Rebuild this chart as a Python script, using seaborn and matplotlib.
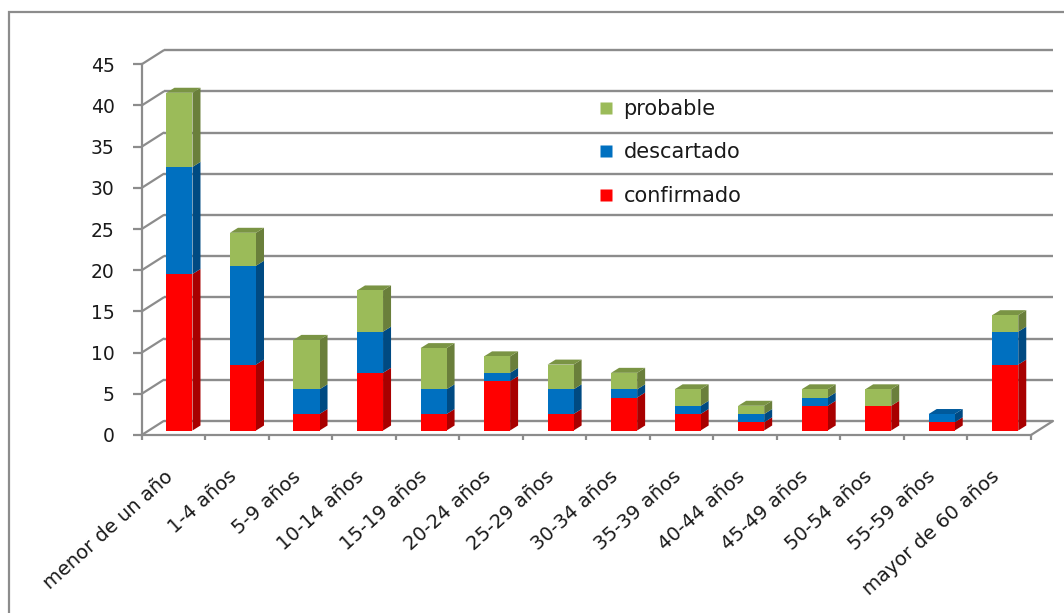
import numpy as np
import matplotlib
matplotlib.use("Agg")
import matplotlib.pyplot as plt
import seaborn as sns
from matplotlib.patches import Polygon, Rectangle
from matplotlib.lines import Line2D
from matplotlib.transforms import ScaledTranslation

# Casos por grupo de edad
grupos = ["menor de un año", "1-4 años", "5-9 años", "10-14 años", "15-19 años",
          "20-24 años", "25-29 años", "30-34 años", "35-39 años", "40-44 años",
          "45-49 años", "50-54 años", "55-59 años", "mayor de 60 años"]
confirmado = [19, 8, 2, 7, 2, 6, 2, 4, 2, 1, 3, 3, 1, 8]
descartado = [13, 12, 3, 5, 3, 1, 3, 1, 1, 1, 1, 0, 1, 4]
probable = [9, 4, 6, 5, 5, 2, 3, 2, 2, 1, 1, 2, 0, 2]
series = ["confirmado", "descartado", "probable"]
y_ticks = list(range(0, 50, 5))

colores = {"confirmado": "#FF0000", "descartado": "#0070C0", "probable": "#9BBB59"}
lados = {"confirmado": "#A80000", "descartado": "#004A82", "probable": "#6A7F3B"}
techos = {"confirmado": "#C00000", "descartado": "#005A9C", "probable": "#7A9444"}
gris = "#8C8C8C"

sns.set_theme(style="white")
plt.rcParams["font.family"] = ["DejaVu Sans"]

W, H = 1064, 613
fig = plt.figure(figsize=(W / 100, H / 100), dpi=100)
fig.patch.set_facecolor("white")
ax = fig.add_axes([141.7 / W, 1 - 435 / H, (1031 - 141.7) / W, (435 - 64.3) / H])
ax.set_facecolor("none")

# stacked bars: draw cumulative totals, tallest first
conf = np.array(confirmado)
desc = np.array(descartado)
prob = np.array(probable)
acum = {"confirmado": conf, "descartado": conf + desc, "probable": conf + desc + prob}
bar_w = 0.41
for s in ["probable", "descartado", "confirmado"]:
    sns.barplot(x=grupos, y=acum[s], color=colores[s], saturation=1, width=bar_w,
                linewidth=0, ax=ax, zorder=3)

ax.set_xlim(-0.5, len(grupos) - 0.5)
ax.set_ylim(0, 45)

# pixel -> data scale for the depth effect
o = ax.transData.transform((0, 0))
sx = ax.transData.transform((1, 0))[0] - o[0]
sy = ax.transData.transform((0, 1))[1] - o[1]
wall_dx, wall_dy = 22 / sx, 14 / sy      # back wall offset
f_dx, f_dy = 6 / sx, 4.5 / sy            # bar front face offset
b_dx, b_dy = 14 / sx, 9.5 / sy           # bar back face offset

# move the front faces into depth
for p in ax.patches:
    p.set_x(p.get_x() + f_dx)
    p.set_y(p.get_y() + f_dy)

# side and top faces of each segment
bottoms = {"confirmado": np.zeros(len(grupos)), "descartado": conf, "probable": conf + desc}
for i in range(len(grupos)):
    xl = i - bar_w / 2 + f_dx
    xr = i + bar_w / 2 + f_dx
    top_s = None
    for s in series:
        b = bottoms[s][i]
        t = acum[s][i]
        if t <= b:
            continue
        top_s = s
        side = [(xr, b + f_dy), (xr, t + f_dy),
                (xr - f_dx + b_dx, t + b_dy), (xr - f_dx + b_dx, b + b_dy)]
        ax.add_patch(Polygon(side, closed=True, facecolor=lados[s], edgecolor="none",
                             zorder=2.5, clip_on=False))
    if top_s is not None:
        t = acum[top_s][i]
        roof = [(xl, t + f_dy), (xr, t + f_dy),
                (xr - f_dx + b_dx, t + b_dy), (xl - f_dx + b_dx, t + b_dy)]
        ax.add_patch(Polygon(roof, closed=True, facecolor=techos[top_s], edgecolor="none",
                             zorder=2.5, clip_on=False))

# back wall gridlines, left wall diagonals and floor
x0, x1 = ax.get_xlim()
for v in y_ticks:
    ax.plot([x0 + wall_dx, x1 + wall_dx], [v + wall_dy, v + wall_dy], color=gris,
            lw=1.7, zorder=1, clip_on=False, solid_capstyle="butt")
    ax.plot([x0, x0 + wall_dx], [v, v + wall_dy], color=gris, lw=1.6, zorder=1,
            clip_on=False)
ax.plot([x1, x1 + wall_dx], [0, wall_dy], color=gris, lw=1.6, zorder=1, clip_on=False)

# axes styling
for name, sp in ax.spines.items():
    if name in ("left", "bottom"):
        sp.set_color(gris)
        sp.set_linewidth(1.6)
    else:
        sp.set_visible(False)

ax.set_yticks(y_ticks)
ax.set_yticklabels([str(v) for v in y_ticks])
ax.tick_params(axis="y", direction="out", length=6.5, width=1.6, color=gris,
               labelsize=13.5, labelcolor="#1a1a1a", pad=13, left=True)

ax.set_xticks(range(len(grupos)))
ax.set_xticks(np.arange(-0.5, len(grupos), 1), minor=True)
ax.tick_params(axis="x", which="major", length=0, pad=28, labelsize=14,
               labelcolor="#1a1a1a")
ax.tick_params(axis="x", which="minor", direction="out", length=3.8, width=1.6,
               color=gris, bottom=True)
ax.set_xticklabels(grupos, rotation=42, ha="right", va="center", rotation_mode="anchor")
for lbl in ax.get_xticklabels():
    lbl.set_transform(lbl.get_transform() + ScaledTranslation(-2 / 72, 0, fig.dpi_scale_trans))
ax.set_xlabel("")
ax.set_ylabel("")
ax.grid(False)

# legend
handles = [Line2D([], [], marker="s", linestyle="none", markersize=8,
                  markerfacecolor=colores[s], markeredgecolor="none")
           for s in ["probable", "descartado", "confirmado"]]
ax.legend(handles, ["probable", "descartado", "confirmado"], loc="upper left",
          bbox_to_anchor=(0.502, 0.935), frameon=False, fontsize=15,
          handlelength=0.7, handletextpad=0.5, labelspacing=1.13, borderpad=0,
          labelcolor="#1a1a1a")

# chart frame
fig.patches.append(Rectangle((9 / W, -0.1), 1.2, 1 - 12 / H + 0.1,
                             transform=fig.transFigure, fill=False,
                             edgecolor=gris, linewidth=1.6))

fig.savefig("out.png", dpi=100)
